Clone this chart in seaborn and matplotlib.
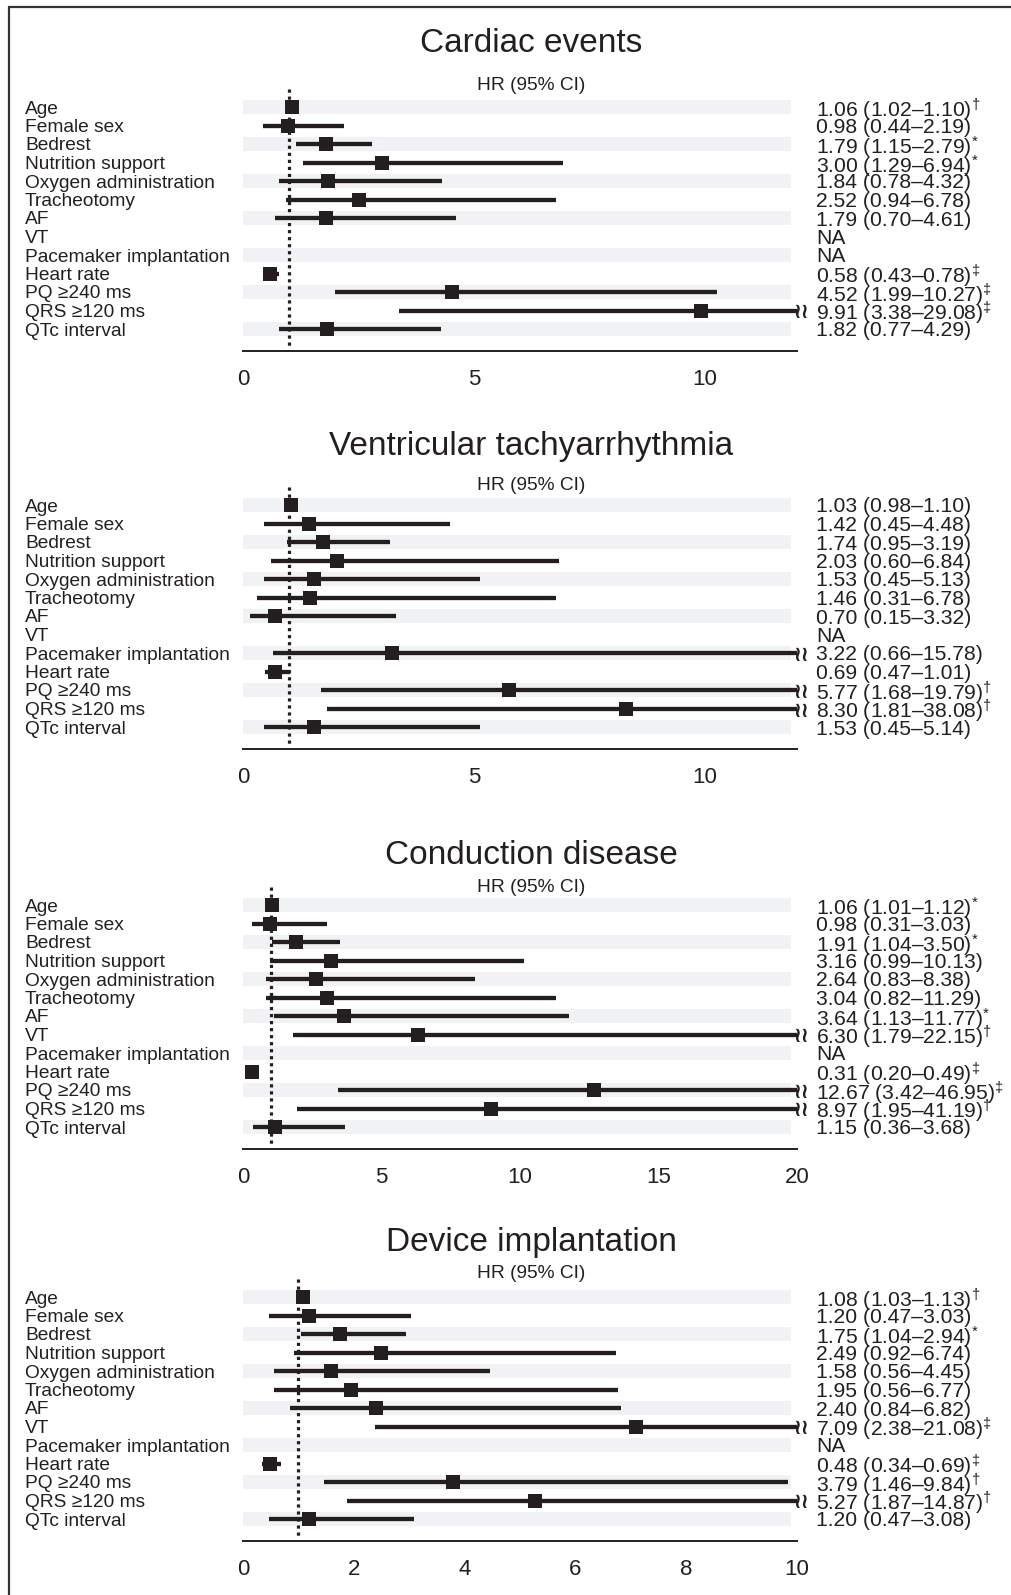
import numpy as np
import pandas as pd
import matplotlib
matplotlib.use("Agg")
import matplotlib.pyplot as plt
import matplotlib.transforms as mtransforms
from matplotlib.lines import Line2D
import seaborn as sns

# ===============================
# DATA
# ===============================
variables = ["Age", "Female sex", "Bedrest", "Nutrition support",
             "Oxygen administration", "Tracheotomy", "AF", "VT",
             "Pacemaker implantation", "Heart rate", "PQ \u2265240 ms",
             "QRS \u2265120 ms", "QTc interval"]

titles = ["Cardiac events", "Ventricular tachyarrhythmia",
          "Conduction disease", "Device implantation"]
x_limits = [12, 12, 20, 10]
x_ticks = [[0, 5, 10], [0, 5, 10], [0, 5, 10, 15, 20], [0, 2, 4, 6, 8, 10]]

na = np.nan

ce_hr = [1.06, 0.98, 1.79, 3.00, 1.84, 2.52, 1.79, na, na, 0.58, 4.52, 9.91, 1.82]
ce_lo = [1.02, 0.44, 1.15, 1.29, 0.78, 0.94, 0.70, na, na, 0.43, 1.99, 3.38, 0.77]
ce_hi = [1.10, 2.19, 2.79, 6.94, 4.32, 6.78, 4.61, na, na, 0.78, 10.27, 29.08, 4.29]
ce_sig = ["\u2020", "", "*", "*", "", "", "", "", "", "\u2021", "\u2021", "\u2021", ""]

vt_hr = [1.03, 1.42, 1.74, 2.03, 1.53, 1.46, 0.70, na, 3.22, 0.69, 5.77, 8.30, 1.53]
vt_lo = [0.98, 0.45, 0.95, 0.60, 0.45, 0.31, 0.15, na, 0.66, 0.47, 1.68, 1.81, 0.45]
vt_hi = [1.10, 4.48, 3.19, 6.84, 5.13, 6.78, 3.32, na, 15.78, 1.01, 19.79, 38.08, 5.14]
vt_sig = ["", "", "", "", "", "", "", "", "", "", "\u2020", "\u2020", ""]

cd_hr = [1.06, 0.98, 1.91, 3.16, 2.64, 3.04, 3.64, 6.30, na, 0.31, 12.67, 8.97, 1.15]
cd_lo = [1.01, 0.31, 1.04, 0.99, 0.83, 0.82, 1.13, 1.79, na, 0.20, 3.42, 1.95, 0.36]
cd_hi = [1.12, 3.03, 3.50, 10.13, 8.38, 11.29, 11.77, 22.15, na, 0.49, 46.95, 41.19, 3.68]
cd_sig = ["*", "", "*", "", "", "", "*", "\u2020", "", "\u2021", "\u2021", "\u2020", ""]

di_hr = [1.08, 1.20, 1.75, 2.49, 1.58, 1.95, 2.40, 7.09, na, 0.48, 3.79, 5.27, 1.20]
di_lo = [1.03, 0.47, 1.04, 0.92, 0.56, 0.56, 0.84, 2.38, na, 0.34, 1.46, 1.87, 0.47]
di_hi = [1.13, 3.03, 2.94, 6.74, 4.45, 6.77, 6.82, 21.08, na, 0.69, 9.84, 14.87, 3.08]
di_sig = ["\u2020", "", "*", "", "", "", "", "\u2021", "", "\u2021", "\u2020", "\u2020", ""]

panels = [(ce_hr, ce_lo, ce_hi, ce_sig), (vt_hr, vt_lo, vt_hi, vt_sig),
          (cd_hr, cd_lo, cd_hi, cd_sig), (di_hr, di_lo, di_hi, di_sig)]

# ===============================
# LAYOUT (pixels)
# ===============================
W, H = 1011, 1595
ROW = 18.5
AX_LEFT, AX_RIGHT = 243, 797
AGE_Y = [107, 505, 905, 1297]
TITLE_Y = [43, 447, 856, 1243]
HR_Y = [86, 486, 888, 1274]
CX = 531
INK = "#231f20"
BAND = "#f1f2f3"
SUP = {"*": r"$^{*}$", "\u2020": r"$^{\dagger}$", "\u2021": r"$^{\ddagger}$", "": ""}

sns.set_theme(style="white")
plt.rcParams["font.family"] = ["Liberation Sans", "DejaVu Sans"]
plt.rcParams["mathtext.fontset"] = "custom"
plt.rcParams["mathtext.rm"] = "Liberation Sans"
plt.rcParams["mathtext.it"] = "Liberation Sans"
plt.rcParams["text.color"] = INK

fig = plt.figure(figsize=(W / 100, H / 100), dpi=100)

for p, (hr, lo, hi, sig) in enumerate(panels):
    xmax = x_limits[p]
    top_px = AGE_Y[p] - 1.2 * ROW
    bot_px = AGE_Y[p] + 13.2 * ROW
    ax = fig.add_axes([AX_LEFT / W, 1 - bot_px / H,
                       (AX_RIGHT - AX_LEFT) / W, (bot_px - top_px) / H])
    ax.set_xlim(0, xmax)
    ax.set_ylim(13.2, -1.2)

    # alternating bands
    for i in range(0, len(variables), 2):
        ax.fill_between([0, xmax * 0.99], i - 0.4, i + 0.4, color=BAND,
                        lw=0, zorder=0)

    # reference line at HR = 1
    ax.plot([1, 1], [-1.0, 13.1], color=INK, lw=2.3,
            linestyle=(0, (1, 1.2)), zorder=1)

    df = pd.DataFrame({"row": np.arange(len(variables)), "hr": hr,
                       "lo": lo, "hi": hi}).dropna()

    ax.hlines(df["row"], df["lo"], np.minimum(df["hi"], xmax),
              color=INK, lw=3.1, zorder=2)
    sns.scatterplot(data=df, x="hr", y="row", marker="s", s=100, color=INK,
                    linewidth=0, legend=False, zorder=3, ax=ax)

    for r, h in zip(df["row"], df["hi"]):
        if h > xmax:
            ax.annotate("\u2240\u2240", xy=(xmax, r), xytext=(-2.5, 0),
                        textcoords="offset points", ha="left",
                        va="center_baseline", fontsize=15, fontweight="bold",
                        family="DejaVu Sans", color=INK,
                        annotation_clip=False)

    trans = mtransforms.blended_transform_factory(fig.transFigure, ax.transData)
    for i, name in enumerate(variables):
        ax.text(25 / W, i, name, transform=trans, ha="left",
                va="center_baseline", fontsize=13.8)
        if np.isnan(hr[i]):
            txt = "NA"
        else:
            txt = f"{hr[i]:.2f} ({lo[i]:.2f}\u2013{hi[i]:.2f})" + SUP[sig[i]]
        ax.text(816 / W, i, txt, transform=trans, ha="left",
                va="center_baseline", fontsize=15.2)

    ax.set_yticks([])
    ax.set_xticks(x_ticks[p])
    ax.set_xlabel("")
    ax.set_ylabel("")
    ax.tick_params(axis="x", length=0, pad=13, labelsize=16, labelcolor=INK)
    for s in ["top", "left", "right"]:
        ax.spines[s].set_visible(False)
    ax.spines["bottom"].set_color(INK)
    ax.spines["bottom"].set_linewidth(1.4)
    ax.set_facecolor("none")

    fig.text(CX / W, 1 - TITLE_Y[p] / H, titles[p], ha="center",
             va="center", fontsize=24)
    fig.text(CX / W, 1 - HR_Y[p] / H, "HR (95% CI)", ha="center",
             va="center", fontsize=13.8)

# frame (left and top edges only visible in the crop)
fig.add_artist(Line2D([9 / W, 9 / W], [0, 1 - 7 / H], transform=fig.transFigure,
                      color="#333333", lw=1.6))
fig.add_artist(Line2D([9 / W, 1], [1 - 7 / H, 1 - 7 / H], transform=fig.transFigure,
                      color="#333333", lw=1.6))

fig.savefig("out.png", dpi=100)
